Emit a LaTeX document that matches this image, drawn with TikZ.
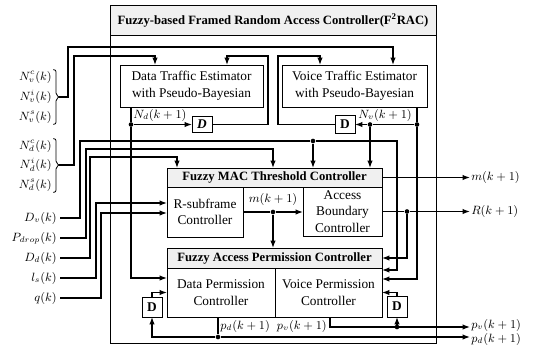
\documentclass[tikz,border=0pt]{standalone}
\usepackage{fontspec}
\setmainfont{Liberation Serif}
\usetikzlibrary{positioning,calc,arrows.meta}

\begin{document}
\begin{tikzpicture}
    [x=0.75pt, y=-0.75pt, >={Latex[length=5.5pt,width=4pt]}, line width=0.9pt,
      box/.style = {draw, line width=0.65pt, rectangle, align=center, inner
        sep=0pt, outer sep=0pt, font=\fontsize{10}{12.5}\selectfont},
      strip/.style = {box, fill=gray!12, font=\bfseries\fontsize{9.5}{11}\selectfont},
      dly/.style = {box, minimum width=15pt, minimum height=14pt,
        font=\bfseries\fontsize{10}{12}\selectfont},
      lbl/.style = {inner sep=0.5pt, font=\fontsize{9}{11}\selectfont},
      inp/.style = {lbl, anchor=east, outer sep=2pt},
      brc/.style = {line width=0.6pt, rounded corners=1.5pt},
      dot/.style = {circle, fill, inner sep=0pt, minimum size=3.5pt}]

    \useasboundingbox (0,0) rectangle (534,351);

    % the controller frame
    \node (frac) [box, minimum width=244.5pt, minimum height=253.5pt] at (273,174) {};
    \node (title) [strip, minimum width=244.5pt, minimum height=22.5pt] at (273,20)
    {Fuzzy-based Framed Random Access Controller(F\textsuperscript{2}RAC)};

    % estimators
    \node (dte) [box, minimum width=107.25pt, minimum height=31.5pt] at (191.5,86)
    {Data Traffic Estimator\\
      with Pseudo-Bayesian};
    \node (vte) [box, minimum width=108.75pt, minimum height=31.5pt] at (354.5,86)
    {Voice Traffic Estimator\\
      with Pseudo-Bayesian};
    \node (dd) [dly, minimum height=12pt] at (202,124.5) {\textit{D}};
    \node (dv) [dly, minimum height=13.5pt] at (345,124.5) {D};

    % MAC threshold
    \node (mact) [strip, minimum width=161.25pt, minimum height=14.25pt] at (274.5,177.5)
    {Fuzzy MAC Threshold Controller};
    \node (rsub) [box, minimum width=57pt, minimum height=37.5pt,
      below right=0pt of mact.south west]
    {R-subframe\\
      Controller};
    \node (abc) [box, minimum width=59.25pt, minimum height=36.75pt,
      below left=0pt of mact.south east]
    {Access\\
      Boundary\\
      Controller};

    % access permission
    \node (fapct) [strip, minimum width=161.25pt, minimum height=15pt] at (274.5,258)
    {Fuzzy Access Permission Controller};
    \node (dpc) [box, minimum width=81pt, minimum height=36.75pt,
      below right=0pt of fapct.south west]
    {Data Permission\\
      Controller};
    \node (vpc) [box, minimum width=80.25pt, minimum height=36.75pt, right=0pt of dpc]
    {Voice Permission\\
      Controller};
    \node (dpd) [dly, minimum height=15pt] at (152,307) {D};
    \node (dpv) [dly, minimum height=15.75pt] at (397,306.5) {D};

    % estimator inputs
    \node (nvc) [lbl, anchor=east] at (53,77) {$N^c_v(k)$};
    \node (nvi) [lbl, anchor=east] at (53,97) {$N^i_v(k)$};
    \node (nvs) [lbl, anchor=east] at (53,117) {$N^s_v(k)$};
    \node (ndc) [lbl, anchor=east] at (53,146) {$N^c_d(k)$};
    \node (ndi) [lbl, anchor=east] at (53,165) {$N^i_d(k)$};
    \node (nds) [lbl, anchor=east] at (53,185) {$N^s_d(k)$};
    \coordinate (nvt) at ($(nvi.east)+(6,0)$);
    \coordinate (ndt) at ($(ndi.east)+(6,0)$);
    \draw [brc] (nvc.north east) -| ($(nvt)+(-3,-2)$) -- (nvt);
    \draw [brc] (nvs.south east) -| ($(nvt)+(-3,2)$) -- (nvt);
    \draw [brc] (ndc.north east) -| ($(ndt)+(-3,-2)$) -- (ndt);
    \draw [brc] (nds.south east) -| ($(ndt)+(-3,2)$) -- (ndt);

    \coordinate (dtein) at ($(dte.north)+(-36.5,0)$);
    \coordinate (dteloop) at ($(dte.north)+(35.5,0)$);
    \coordinate (vteloop) at ($(vte.north)+(-34.5,0)$);
    \coordinate (vtein) at ($(vte.north)+(38.5,0)$);
    \coordinate (dteout) at ($(dte.south)+(-60.5,0)$);
    \coordinate (vteout) at ($(vte.south)+(62.5,0)$);

    \draw[->] (nvt) -- ++(9,0) |- ($(vtein)+(0,-18)$) -- (vtein);
    \draw[->] (ndt) -- ++(15,0) |- ($(dtein)+(0,-9)$) -- (dtein);
    \draw[->] (dd.east) -| ($(dte.north east)+(5,-9)$) -| (dteloop);
    \draw[->] (dv.west) -| ($(vte.north west)+(-4,-9)$) -| (vteloop);

    % estimator outputs
    \node (jd) [dot] at (dteout |- dd) {};
    \draw (dteout) -- (jd);
    \draw[->] (jd) -- (dd);
    \draw[->] (jd) |- ($(dpc.west)+(0,-14.5)$);
    \node (ndl) [lbl, anchor=west] at ($(dteout)+(1,8)$) {$N_d(k+1)$};

    \node (jv) [dot] at (vteout |- dv) {};
    \node (jm) [dot] at ($(jv)+(-47,0)$) {};
    \draw (vteout) -- (jv) -- (jm);
    \draw[->] (jm) -- (dv);
    \draw[->] (jm) -- (jm |- mact.north);
    \draw[->] (jv) |- ($(vpc.east)+(0,-13.5)$);
    \node (nvl) [lbl, anchor=east] at ($(vteout)+(-4,8)$) {$N_v(k+1)$};

    % measured inputs
    \node (dvk) [inp] at (60,218) {$D_v(k)$};
    \node (pdrop) [inp] at (60,238) {$P_{drop}(k)$};
    \node (ddk) [inp] at (60,258) {$D_d(k)$};
    \node (lsk) [inp] at (60,278) {$l_s(k)$};
    \node (qk) [inp] at (60,298) {$q(k)$};

    \node (jdv) [dot] at ($(mact.north)+(38.5,-27)$) {};
    \draw (dvk.east) -- ++(20,0) |- (jdv);
    \draw[->] (jdv) -- (jdv |- mact.north);
    \draw[->] (jdv) -| ($(vpc.north east)+(15,2)$) -- ($(vpc.north east)+(0,2)$);
    \draw[->] (pdrop.east) -- ++(26,0) |- ($(mact.north)+(-1.5,-19)$)
    -- ($(mact.north)+(-1.5,0)$);
    \draw[->] (ddk.east) -- ++(30,0) |- ($(mact.north west)+(10,-11)$)
    -- ($(mact.north west)+(10,0)$);
    \draw[->] (lsk.east) -- ++(36,0) |- ($(rsub.west)+(0,-9)$);
    \draw[->] (qk.east) -- ++(41,0) |- ($(rsub.west)+(0,1)$);

    % threshold outputs
    \node (jmk) [dot] at ($(rsub.east)!0.5!(abc.west |- rsub.east)$) {};
    \draw (rsub.east) -- (jmk);
    \draw[->] (jmk) -- (abc.west |- jmk);
    \draw[->] (jmk) -- (jmk |- fapct.north);
    \node (mk) [lbl] at ($(jmk)+(0,-13)$) {$m(k+1)$};

    \coordinate (mout) at ($(mact.east)+(88,0)$);
    \draw[->] (mact.east) -- (mout);
    \node (mlab) [lbl, anchor=west] at (mout) {$m(k+1)$};

    \node (jr) [dot] at ($(abc.east)+(25,0)$) {};
    \coordinate (rout) at (mout |- abc.east);
    \draw (abc.east) -- (jr);
    \draw[->] (jr) -- (rout);
    \draw[->] (jr) |- (fapct.east);
    \node (rlab) [lbl, anchor=west] at (rout) {$R(k+1)$};

    % permission outputs
    \coordinate (dpcout) at ($(dpc.south)+(-3,0)$);
    \node (jpd) [dot] at ($(dpcout)+(0,20)$) {};
    \coordinate (pdout) at (mout |- jpd);
    \draw (dpcout) -- (jpd);
    \draw[->] (jpd) -| (dpd.south);
    \draw[->] (jpd) -- (pdout);
    \draw[->] (dpd.north) |- (dpc.west);
    \node (pdl) [lbl, anchor=west] at ($(dpcout)+(1,9)$) {$p_d(k+1)$};
    \node (pdlab) [lbl, anchor=west] at ($(pdout)+(0,2)$) {$p_d(k+1)$};

    \coordinate (vpcout) at ($(vpc.south)+(1.5,0)$);
    \coordinate (pvout) at ($(mout |- vpcout)+(0,10)$);
    \node (jpv) [dot] at (dpv.south |- pvout) {};
    \draw[->] (vpcout) |- (pvout);
    \draw[->] (jpv) -- (dpv.south);
    \draw[->] (dpv.north) |- (vpc.east);
    \node (pvl) [lbl, anchor=east] at ($(vpcout)+(-2,9)$) {$p_v(k+1)$};
    \node (pvlab) [lbl, anchor=west] at ($(pvout)+(0,-2)$) {$p_v(k+1)$};
  \end{tikzpicture}
\end{document}
